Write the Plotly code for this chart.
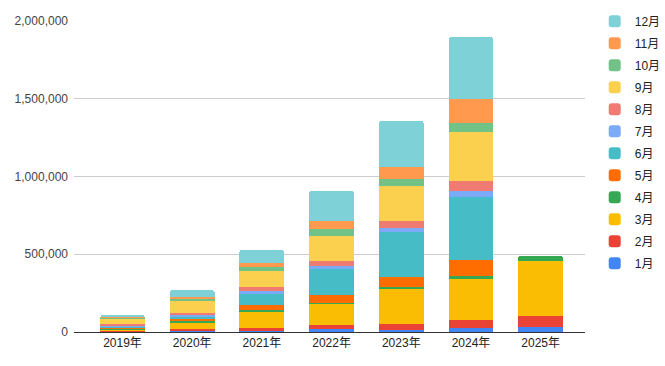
import plotly.graph_objects as go

years = ["2019年", "2020年", "2021年", "2022年", "2023年", "2024年", "2025年"]
months = ["1月", "2月", "3月", "4月", "5月", "6月", "7月", "8月", "9月", "10月", "11月", "12月"]

m01 = [3000, 6000, 8000, 19000, 13000, 26000, 32000]
m02 = [5000, 13000, 17000, 26000, 39000, 51000, 71000]
m03 = [6000, 45000, 103000, 141000, 225000, 264000, 354000]
m04 = [6000, 6000, 13000, 3000, 13000, 19000, 32000]
m05 = [7000, 13000, 32000, 51000, 64000, 103000, None]
m06 = [10000, 13000, 71000, 167000, 289000, 405000, None]
m07 = [7000, 13000, 19000, 19000, 26000, 39000, None]
m08 = [5000, 13000, 26000, 32000, 45000, 64000, None]
m09 = [37000, 77000, 103000, 161000, 225000, 315000, None]
m10 = [5000, 13000, 24000, 45000, 45000, 58000, None]
m11 = [6000, 13000, 28000, 51000, 77000, 154000, None]
m12 = [6000, 45000, 84000, 193000, 296000, 399000, None]

series = [m01, m02, m03, m04, m05, m06, m07, m08, m09, m10, m11, m12]
colors = ["#4285F4", "#EA4335", "#FBBC04", "#34A853", "#FF6D01", "#46BDC6",
          "#7BAAF7", "#F07B72", "#FCD04F", "#71C287", "#FF994D", "#7ED1D7"]

y_ticks = [0, 500000, 1000000, 1500000, 2000000]
y_tick_labels = ["0", "500,000", "1,000,000", "1,500,000", "2,000,000"]

FONT = "Liberation Sans, Arial, Noto Sans CJK JP, sans-serif"

fig = go.Figure()
n = len(months)
for i, (name, vals, col) in enumerate(zip(months, series, colors)):
    fig.add_trace(go.Bar(
        x=years, y=vals, name=name,
        marker=dict(color=col, line=dict(width=0)),
        legendgroup=name,
        legendrank=n - i,
    ))

fig.update_layout(
    width=665, height=366,
    barmode="stack",
    bargap=0.355,
    barcornerradius=3,
    paper_bgcolor="white",
    plot_bgcolor="white",
    margin=dict(l=74, r=80, t=21, b=34, autoexpand=False),
    font=dict(family=FONT, size=12, color="#444444"),
    showlegend=True,
    legend=dict(
        x=1.019, xanchor="left", y=1.046, yanchor="top",
        traceorder="grouped",
        tracegroupgap=3,
        maxheight=366,
        font=dict(family=FONT, size=12, color="#222222"),
        bgcolor="rgba(0,0,0,0)",
    ),
    xaxis=dict(
        type="category",
        range=[-0.696, 6.636],
        showgrid=False,
        showline=True, linecolor="#333333", linewidth=1,
        ticks="",
        tickfont=dict(family=FONT, size=12, color="#222222"),
        fixedrange=True,
    ),
    yaxis=dict(
        range=[0, 2000000],
        tickvals=y_ticks, ticktext=y_tick_labels,
        showgrid=True, gridcolor="#cccccc", gridwidth=1,
        zeroline=False,
        ticks="",
        ticklabelstandoff=5,
        tickfont=dict(family=FONT, size=12, color="#444444"),
        fixedrange=True,
    ),
)

fig.write_html(
    "out.html",
    config={"displayModeBar": False},
    post_script="document.body.style.margin='0';document.body.style.overflow='hidden';",
)
